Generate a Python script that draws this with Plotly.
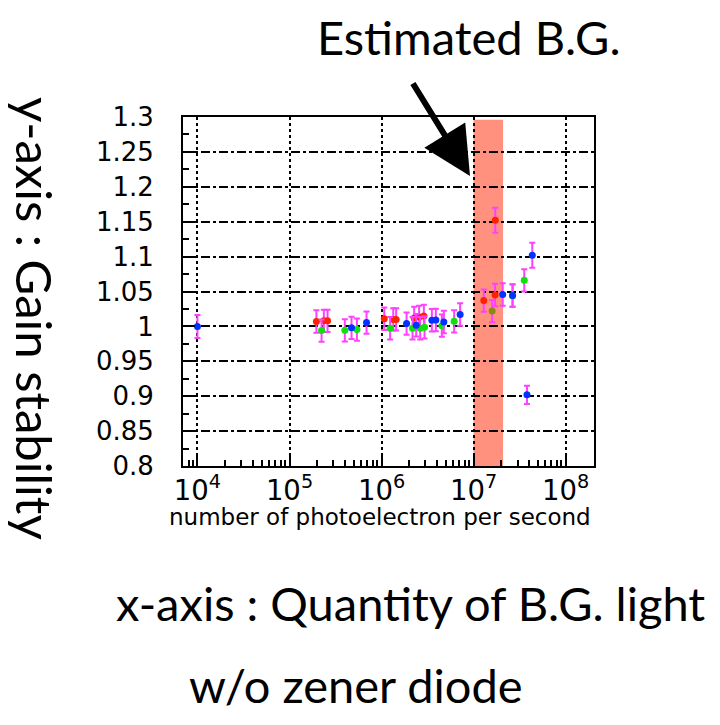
import plotly.graph_objects as go

# ---- data ----
red_x = [1.96e5, 2.36e5, 2.59e5, 1.07e6, 1.34e6, 1.44e6, 2.26e6, 2.56e6, 2.88e6, 1.29e7, 1.71e7, 1.72e7]
red_y = [1.007, 1.008, 1.008, 1.011, 1.010, 1.010, 1.012, 1.0135, 1.015, 1.037, 1.045, 1.152]
red_e = [0.016, 0.016, 0.016, 0.016, 0.016, 0.016, 0.016, 0.016, 0.016, 0.016, 0.016, 0.018]

green_x = [2.23e5, 3.99e5, 5.40e5, 1.24e6, 2.17e6, 2.63e6, 2.93e6, 4.52e6, 6.15e6, 1.59e7, 2.65e7, 3.55e7]
green_y = [0.994, 0.9944, 0.9954, 0.9973, 0.9973, 0.9973, 0.9987, 1.0011, 1.0073, 1.022, 1.044, 1.066]
green_e = [0.016, 0.016, 0.016, 0.016, 0.016, 0.016, 0.016, 0.016, 0.016, 0.016, 0.016, 0.016]
green_c = ["#10E010"] * 9 + ["#8A8A10"] + ["#10E010"] * 2

blue_x = [1.0e4, 4.72e5, 6.87e5, 1.87e6, 2.38e6, 3.52e6, 3.89e6, 4.75e6, 7.14e6, 2.07e7, 2.65e7, 3.80e7, 4.34e7]
blue_y = [1.000, 0.998, 1.0055, 1.004, 1.0016, 1.0088, 1.0092, 1.0063, 1.017, 1.0457, 1.0443, 0.902, 1.102]
blue_e = [0.0165, 0.016, 0.016, 0.016, 0.016, 0.016, 0.016, 0.016, 0.016, 0.016, 0.016, 0.013, 0.018]

band_x = [1.0e7, 2.09e7]
band_y = [0.8, 1.296]

y_ticks = [0.8, 0.85, 0.9, 0.95, 1.0, 1.05, 1.1, 1.15, 1.2, 1.25, 1.3]
y_labels = ["0.8", "0.85", "0.9", "0.95", "1", "1.05", "1.1", "1.15", "1.2", "1.25", "1.3"]

ERR = "#FF40FF"
TEXTFONT = dict(family="Lato", size=47, color="black")

fig = go.Figure()

def add_series(x, y, e, color):
    fig.add_trace(go.Scatter(
        x=x, y=y, mode="markers",
        marker=dict(color=color, size=7, symbol="circle", line=dict(width=0)),
        error_y=dict(type="data", array=e, color=ERR, thickness=2, width=3),
        showlegend=False,
    ))

add_series(red_x, red_y, red_e, "#FF2200")
add_series(green_x, green_y, green_e, green_c)
add_series(blue_x, blue_y, blue_e, "#0033FF")

# estimated background band
fig.add_shape(type="rect", xref="x", yref="y",
              x0=band_x[0], x1=band_x[1], y0=band_y[0], y1=band_y[1],
              fillcolor="#FF917E", line=dict(width=0), layer="below")

fig.update_layout(
    width=720, height=725,
    margin=dict(l=183, r=126, t=117, b=259),
    paper_bgcolor="white", plot_bgcolor="white",
    font=dict(family="DejaVu Sans", size=23, color="black"),
    xaxis=dict(
        type="log", range=[3.843, 8.308], dtick=1, exponentformat="power",
        showline=True, linecolor="black", linewidth=2, mirror=True,
        ticks="inside", ticklen=12, tickwidth=2, tickcolor="black",
        tickfont=dict(family="DejaVu Sans", size=22, color="black"),
        showgrid=True, gridcolor="black", gridwidth=2, griddash="dot",
        minor=dict(ticks="inside", ticklen=6, tickwidth=1.5, tickcolor="black",
                   dtick="D1", showgrid=False),
        zeroline=False,
    ),
    yaxis=dict(
        range=[0.8, 1.3], tickmode="array", tickvals=y_ticks, ticktext=y_labels,
        showline=True, linecolor="black", linewidth=2, mirror=True,
        ticks="inside", ticklen=12, tickwidth=2, tickcolor="black",
        tickfont=dict(family="DejaVu Sans", size=26, color="black"),
        ticklabelstandoff=22,
        showgrid=True, gridcolor="black", gridwidth=1.5, griddash="dashdot",
        minor=dict(ticks="inside", ticklen=6, tickwidth=1.5, tickcolor="black",
                   dtick=0.025, showgrid=False),
        zeroline=False,
    ),
    annotations=[
        dict(text="number of photoelectron per second", xref="paper", yref="paper",
             x=(593 - 183) / 411, y=(466 - 517) / 349, xanchor="right", yanchor="middle", showarrow=False,
             font=dict(family="DejaVu Sans", size=23, color="black")),
        dict(text="Estimated B.G.", xref="paper", yref="paper",
             x=(469 - 183) / 411, y=(466 - 37) / 349, xanchor="center", yanchor="middle",
             showarrow=False, font=TEXTFONT),
        dict(text="", xref="paper", yref="paper",
             x=(470 - 183) / 411, y=(466 - 176) / 349,
             axref="pixel", ayref="pixel", ax=-58, ay=-94,
             showarrow=True, arrowhead=2, arrowsize=1.6, arrowwidth=6, arrowcolor="black"),
        dict(text="y-axis : Gain stability", xref="paper", yref="paper",
             x=(35 - 183) / 411, y=(466 - 318) / 349, xanchor="center", yanchor="middle",
             textangle=90, showarrow=False, font=dict(family="Lato", size=49, color="black")),
        dict(text="x-axis : Quantity of B.G. light", xref="paper", yref="paper",
             x=(410 - 183) / 411, y=(466 - 603) / 349, xanchor="center", yanchor="middle",
             showarrow=False, font=TEXTFONT),
        dict(text="w/o zener diode", xref="paper", yref="paper",
             x=(356 - 183) / 411, y=(466 - 685) / 349, xanchor="center", yanchor="middle",
             showarrow=False, font=TEXTFONT),
    ],
)

fig.write_html("out.html")
